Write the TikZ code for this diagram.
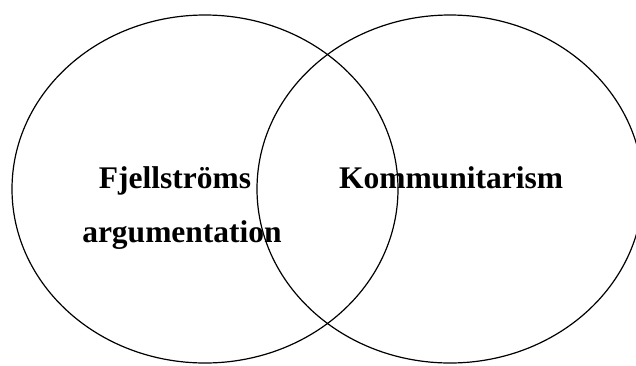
\documentclass[tikz,border=0pt]{standalone}
\usepackage{fontspec}
\setmainfont{Liberation Serif}
\usetikzlibrary{shapes.geometric}
\begin{document}
\begin{tikzpicture}[x=1pt,y=-1pt,
  ring/.style={draw=black,line width=1.2pt,ellipse,minimum width=386pt,minimum height=348pt,inner sep=0pt},
  lbl/.style={font=\fontsize{31.5}{37}\selectfont\bfseries,inner sep=0pt,anchor=base}]
\useasboundingbox (0,0) rectangle (636,365);
\clip (0,0) rectangle (636,365);
\node[ring] (L) at (205,189) {};
\node[ring] (R) at (450,189) {};
\node[lbl] (t1) at (175,188) {Fjellströms};
\node[lbl] (t2) at (182,242) {argumentation};
\node[lbl] (t3) at (451,188) {Kommunitarism};
\end{tikzpicture}
\end{document}
